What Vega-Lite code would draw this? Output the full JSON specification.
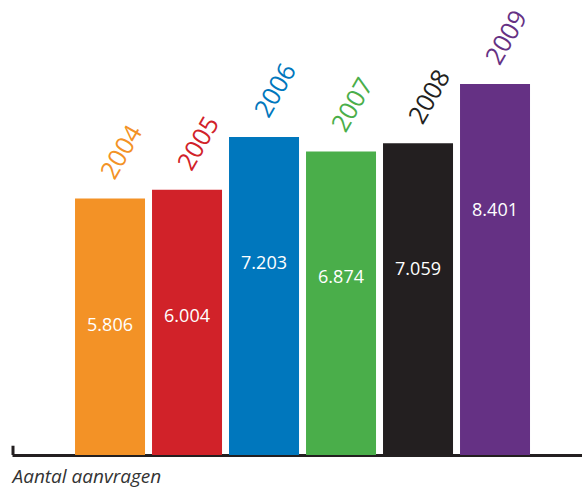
{
  "$schema": "https://vega.github.io/schema/vega-lite/v6.json",
  "width": 570,
  "height": 455,
  "autosize": "none",
  "padding": {"left": 12, "top": 0, "right": 0, "bottom": 35},
  "background": "white",
  "config": {
    "view": {"stroke": null},
    "font": "Open Sans",
    "locale": {"number": {"decimal": ",", "thousands": ".", "grouping": [3], "currency": ["€", ""]}}
  },
  "data": {"values": [
    {"jaar": "2004", "aanvragen": 5806},
    {"jaar": "2005", "aanvragen": 6004},
    {"jaar": "2006", "aanvragen": 7203},
    {"jaar": "2007", "aanvragen": 6874},
    {"jaar": "2008", "aanvragen": 7059},
    {"jaar": "2009", "aanvragen": 8401}
  ]},
  "encoding": {
    "x": {
      "field": "jaar", "type": "nominal",
      "scale": {"paddingInner": 0.0909, "paddingOuter": 0.7468, "align": 0.548},
      "axis": {
        "labels": false, "ticks": false, "domain": true,
        "domainColor": "#231f20", "domainWidth": 3,
        "title": "Aantal aanvragen", "titleAnchor": "start", "titleAlign": "left",
        "titleFontStyle": "italic", "titleFontWeight": "normal", "titleFontSize": 19,
        "titleColor": "#333333", "titlePadding": 12, "titleFont": "Open Sans"
      }
    },
    "y": {
      "field": "aanvragen", "type": "quantitative",
      "scale": {"domain": [0, 10303], "nice": false},
      "axis": null
    },
    "color": {
      "field": "jaar", "type": "nominal",
      "scale": {"range": ["#f39226", "#d12229", "#0077bd", "#4aae4a", "#231f20", "#653184"]},
      "legend": null
    }
  },
  "layer": [
    {"mark": {"type": "bar", "opacity": 1}},
    {
      "mark": {"type": "text", "color": "white", "fontSize": 18, "dy": 127, "baseline": "middle", "align": "center"},
      "encoding": {
        "text": {"field": "aanvragen", "type": "quantitative", "format": ","},
        "color": {"value": "white"}
      }
    },
    {
      "mark": {"type": "text", "fontSize": 25, "angle": -60, "align": "center", "baseline": "middle", "dx": 46, "dy": -13},
      "encoding": {
        "text": {"field": "jaar", "type": "nominal"}
      }
    },
    {
      "transform": [{"filter": "datum.jaar === '2004'"}],
      "mark": {"type": "rule", "color": "#231f20", "strokeWidth": 3},
      "encoding": {
        "x": {"field": "jaar", "type": "nominal", "bandPosition": -0.886},
        "y": {"datum": 0},
        "y2": {"datum": 210},
        "color": {"value": "#231f20"}
      }
    }
  ]
}
